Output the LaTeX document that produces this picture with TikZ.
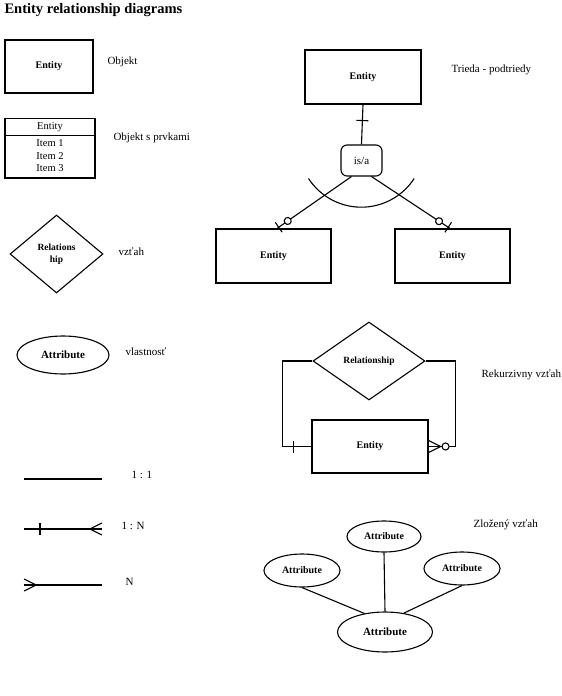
\documentclass[tikz,border=0pt]{standalone}
\usepackage{fontspec}
\setmainfont{Liberation Serif}
\usetikzlibrary{shapes.geometric,shapes.multipart,decorations.markings}

\begin{document}
\begin{tikzpicture}[x=1pt,y=-1pt,line width=1.1pt,
  every node/.style={font=\fontsize{11}{12.5}\selectfont},
  ent/.style={draw,rectangle,minimum width=116pt,minimum height=54pt,inner sep=0pt,font=\fontsize{10}{12}\selectfont\bfseries},
  attr/.style={draw,ellipse,minimum width=76pt,minimum height=33pt,inner sep=0pt,font=\fontsize{10}{12}\selectfont\bfseries},
  rel/.style={draw,diamond,minimum width=112pt,minimum height=78pt,inner sep=0pt,font=\fontsize{9.5}{12}\selectfont\bfseries},
  lbl/.style={anchor=west,inner sep=0pt},
  tickmark/.style={postaction={decorate,decoration={markings,
      mark=at position #1 with {\draw (0,-6pt) -- (0,6pt);}}}},
  ringmark/.style={postaction={decorate,decoration={markings,
      mark=at position #1 with {\draw[fill=white] (0,0) circle[radius=3.5pt];}}}},
  crowend/.style={postaction={decorate,decoration={markings,
      mark=at position 0.999 with {\draw (-12pt,0) -- (0,6pt) (-12pt,0) -- (0,-6pt);}}}},
  crowstart/.style={postaction={decorate,decoration={markings,
      mark=at position 0.001 with {\draw (12pt,0) -- (0,6pt) (12pt,0) -- (0,-6pt);}}}}]
  \useasboundingbox (0,0) rectangle (562,696);
  \node[anchor=base west,inner sep=0pt,font=\fontsize{14.5}{16}\selectfont\bfseries] (title) at (4,13) {Entity relationship diagrams};

  % legend of shapes
  \node[ent,minimum width=88pt,minimum height=53pt] (obj1) at (49,66.5) {Entity};
  \node[lbl] (objlbl) at (107,62) {Objekt};
  \node[draw,rectangle split,rectangle split parts=2,anchor=north,minimum width=90pt,
    inner ysep=1.8pt,align=center,font=\fontsize{10.5}{12.5}\selectfont] (obj2) at (50,118)
    {\strut Entity \nodepart{two} \strut Item 1\\ \strut Item 2\\ \strut Item 3};
  \node[lbl] (obj2lbl) at (113,138) {Objekt s prvkami};
  \node[rel,minimum width=93pt,align=center,font=\fontsize{9.5}{12}\selectfont\bfseries] (rel1) at (56.5,254) {Relations\\hip};
  \node[lbl] (rellbl) at (118,252) {vzťah};
  \node[attr,minimum width=92pt,minimum height=38pt,font=\fontsize{11}{13}\selectfont\bfseries] (attr) at (63,355) {Attribute};
  \node[lbl] (attrlbl) at (125,352) {vlastnosť};

  % legend of connectors
  \coordinate (oneA) at (24,479); \coordinate (oneB) at (102,479);
  \coordinate (manyA) at (24,529); \coordinate (manyB) at (102,529);
  \coordinate (nA) at (24,585); \coordinate (nB) at (102,585);
  \draw (oneA) -- (oneB);
  \draw[tickmark=16pt,crowend] (manyA) -- (manyB);
  \draw[crowstart] (nA) -- (nB);
  \node[lbl] (onelbl) at (131,475) {1 : 1};
  \node[lbl] (manylbl) at (121,526) {1 : N};
  \node[lbl] (nlbl) at (125,582) {N};

  % class - subclasses
  \node[ent] (ent1) at (363,77) {Entity};
  \node[draw,rounded corners=6pt,minimum width=41pt,minimum height=31pt,inner sep=0pt] (isa) at (361.5,160.5) {is/a};
  \node[ent,minimum width=115pt] (ent2) at (273.5,256) {Entity};
  \node[ent,minimum width=115pt] (ent3) at (452.5,256) {Entity};
  \draw[tickmark=16pt] (ent1.south) -- (isa.north);
  \draw[ringmark=-13pt,tickmark=-2pt] (isa.-122) -- ([xshift=3.5pt]ent2.north);
  \draw[ringmark=-13pt,tickmark=-2pt] (isa.-58) -- ([xshift=-2.5pt]ent3.north);
  \draw ([shift={(-53,18)}]isa.center) arc[start angle=147,end angle=33,radius=63];
  \node[lbl] (isalbl) at (451,70) {Trieda - podtriedy};

  % recursive relationship
  \node[rel] (rel2) at (369,361) {Relationship};
  \node[ent,minimum height=53pt] (ent4) at (370,446.5) {Entity};
  \draw[tickmark=-18pt] (rel2.west) -- ++(-30,0) |- (ent4.west);
  \draw[ringmark=-17pt,crowend] (rel2.east) -- ++(30,0) |- (ent4.east);
  \node[lbl] (reclbl) at (481,375) {Rekurzivny vzťah};

  % composite attribute
  \node[attr,minimum width=95pt,minimum height=40pt,font=\fontsize{11}{13}\selectfont\bfseries] (attr0) at (385,632) {Attribute};
  \node[attr,minimum width=74pt,minimum height=31pt] (attr1) at (384,536.5) {Attribute};
  \node[attr] (attr2) at (302,570.5) {Attribute};
  \node[attr] (attr3) at (462,568.5) {Attribute};
  \draw (attr1.south) -- (attr0.north);
  \draw (attr2.south) -- (attr0.138);
  \draw (attr3.south) -- (attr0.45);
  \node[lbl] (complbl) at (473,525) {Zložený vzťah};
\end{tikzpicture}
\end{document}
